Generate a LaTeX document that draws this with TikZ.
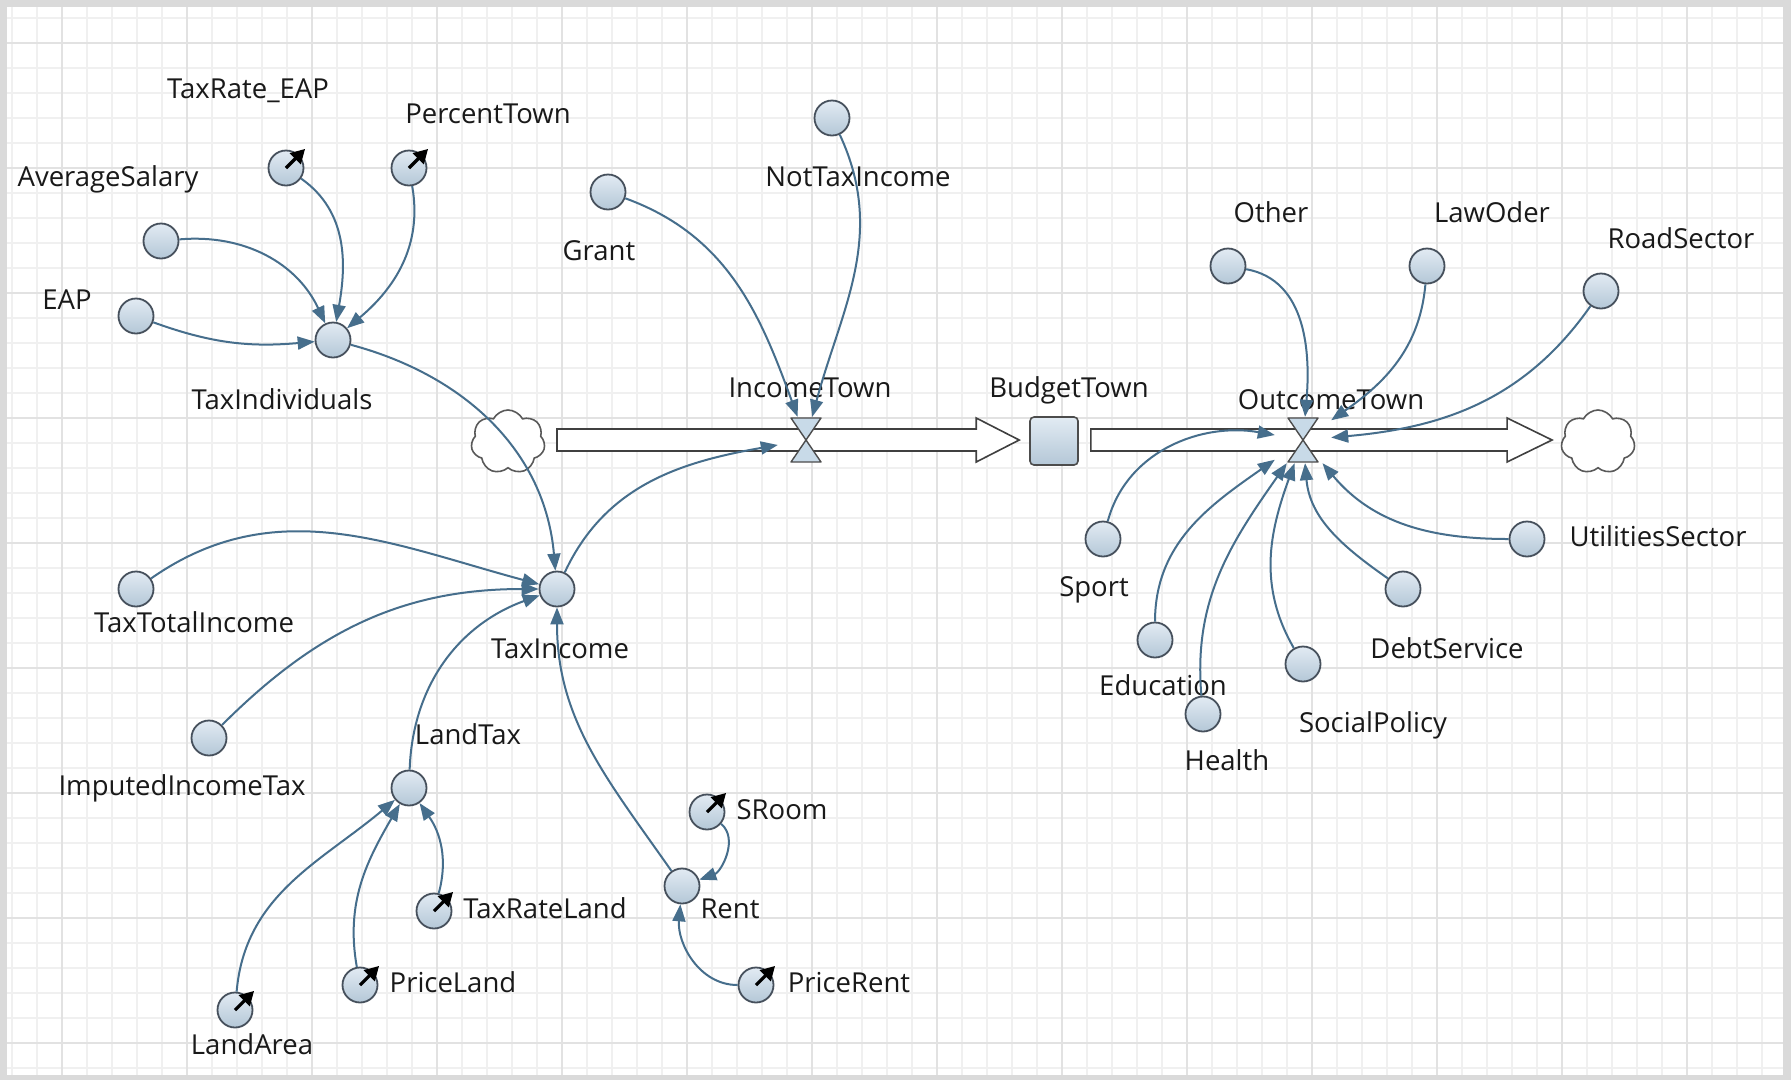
\documentclass[tikz,border=0pt]{standalone}
\usepackage{fontspec}
\setmainfont{Open Sans}
\usetikzlibrary{arrows.meta,shapes.symbols,calc}

\definecolor{linkblue}{RGB}{70,110,140}
\definecolor{auxfill}{RGB}{226,235,243}
\definecolor{auxdark}{RGB}{180,199,215}
\definecolor{auxline}{RGB}{70,80,92}
\definecolor{gridminor}{RGB}{240,240,240}
\definecolor{gridmajor}{RGB}{226,226,226}
\definecolor{framegray}{RGB}{218,218,218}
\definecolor{valvefill}{RGB}{200,218,232}

\begin{document}
\begin{tikzpicture}[x=1pt,y=1pt,
    aux/.style={circle, draw=auxline, line width=1.8pt, top color=auxfill, bottom color=auxdark, minimum size=35pt, inner sep=0pt},
    lbl/.style={font=\fontsize{27.5}{33}\selectfont, text=black!90, inner sep=0pt, text height=20pt, text depth=0pt},
    link/.style={draw=linkblue, line width=2pt, -{Triangle[length=17pt,width=13pt]}},
    dial/.style={line width=3.2pt, -{Triangle[length=14pt,width=15pt]}},
    pipe/.style={draw=black!75, line width=1.6pt, fill=white, line join=miter},
    valve/.style={minimum width=56pt, minimum height=46pt, inner sep=0pt},
    hourglass/.style={draw=black!70, line width=1.4pt, fill=valvefill, line join=round},
    stock/.style={rectangle, rounded corners=4pt, draw=black!70, line width=1.6pt, top color=auxfill, bottom color=auxdark, minimum size=48pt},
    source/.style={cloud, cloud puffs=7, cloud puff arc=125, aspect=1.15, draw=black!65, line width=1.6pt, fill=white, minimum width=74pt, minimum height=64pt}
  ]
  % frame and grid
  \fill[framegray] (0,0) rectangle (1791,-1080);
  \fill[white] (7,-7) rectangle (1783,-1075);
  \foreach \x in {12,37,...,1782} \draw[gridminor, line width=1.5pt] (\x,-7) -- (\x,-1075);
  \foreach \y in {18,43,...,1075} \draw[gridminor, line width=1.5pt] (7,-\y) -- (1783,-\y);
  \foreach \x in {62,187,...,1782} \draw[gridmajor, line width=2pt] (\x,-7) -- (\x,-1075);
  \foreach \y in {43,168,...,1075} \draw[gridmajor, line width=2pt] (7,-\y) -- (1783,-\y);

  % income side
  \node[aux] (taxrateEAP) at (286,-168) {};
  \node[aux] (percentTown) at (409,-168) {};
  \node[aux] (avgSalary) at (161,-241) {};
  \node[aux] (eap) at (136,-316) {};
  \node[aux] (taxInd) at (333,-340) {};
  \node[aux] (grant) at (608,-192) {};
  \node[aux] (notTax) at (832,-118) {};
  \node[aux] (taxIncome) at (557,-589) {};
  \node[aux] (taxTotal) at (136,-589) {};
  \node[aux] (imputed) at (209,-738) {};
  \node[aux] (landTax) at (409,-788) {};
  \node[aux] (taxrateLand) at (434,-911) {};
  \node[aux] (priceLand) at (360,-985) {};
  \node[aux] (landArea) at (235,-1010) {};
  \node[aux] (rent) at (682,-886) {};
  \node[aux] (sRoom) at (707,-812) {};
  \node[aux] (priceRent) at (756,-985) {};

  % stock and flows
  \node[source] (srcL) at (508,-442) {};
  \node[valve] (incomeTown) at (806,-440) {};
  \node[stock] (budget) at (1054,-441) {};
  \node[valve] (outcomeTown) at (1303,-440) {};
  \node[source] (sinkR) at (1598,-442) {};

  % outcome side
  \node[aux] (other) at (1228,-266) {};
  \node[aux] (lawOder) at (1427,-266) {};
  \node[aux] (road) at (1601,-291) {};
  \node[aux] (sport) at (1103,-539) {};
  \node[aux] (education) at (1155,-640) {};
  \node[aux] (health) at (1203,-714) {};
  \node[aux] (social) at (1303,-664) {};
  \node[aux] (debt) at (1403,-589) {};
  \node[aux] (utilities) at (1527,-539) {};

  % labels
  \node[lbl] (taxrateEAPlbl) at (248,-88) {TaxRate\_EAP};
  \node[lbl] (percentTownlbl) at (488,-113) {PercentTown};
  \node[lbl] (avgSalarylbl) at (108,-176) {AverageSalary};
  \node[lbl] (eaplbl) at (67,-299) {EAP};
  \node[lbl] (taxIndlbl) at (282,-399) {TaxIndividuals};
  \node[lbl] (grantlbl) at (599,-250) {Grant};
  \node[lbl] (notTaxlbl) at (858,-176) {NotTaxIncome};
  \node[lbl] (incomeTownlbl) at (810,-387) {IncomeTown};
  \node[lbl] (budgetlbl) at (1069,-387) {BudgetTown};
  \node[lbl] (outcomeTownlbl) at (1331,-399) {OutcomeTown};
  \node[lbl] (otherlbl) at (1271,-212) {Other};
  \node[lbl] (lawOderlbl) at (1492,-212) {LawOder};
  \node[lbl] (roadlbl) at (1681,-238) {RoadSector};
  \node[lbl] (sportlbl) at (1094,-586) {Sport};
  \node[lbl] (educationlbl) at (1163,-685) {Education};
  \node[lbl] (healthlbl) at (1227,-760) {Health};
  \node[lbl] (sociallbl) at (1373,-722) {SocialPolicy};
  \node[lbl] (debtlbl) at (1447,-648) {DebtService};
  \node[lbl] (utilitieslbl) at (1658,-536) {UtilitiesSector};
  \node[lbl] (taxTotallbl) at (194,-622) {TaxTotalIncome};
  \node[lbl] (imputedlbl) at (182,-785) {ImputedIncomeTax};
  \node[lbl] (taxIncomelbl) at (560,-648) {TaxIncome};
  \node[lbl] (landTaxlbl) at (468,-734) {LandTax};
  \node[lbl] (taxrateLandlbl) at (545,-908) {TaxRateLand};
  \node[lbl] (priceLandlbl) at (453,-982) {PriceLand};
  \node[lbl] (landArealbl) at (252,-1044) {LandArea};
  \node[lbl] (rentlbl) at (730,-908) {Rent};
  \node[lbl] (sRoomlbl) at (782,-809) {SRoom};
  \node[lbl] (priceRentlbl) at (849,-982) {PriceRent};

  % pipes
  \draw[pipe] ($(srcL.east)+(12,13)$) -- ($(budget.west)+(-53,12)$) -- ($(budget.west)+(-53,23)$)
    -- ($(budget.west)+(-10,1)$) -- ($(budget.west)+(-53,-21)$) -- ($(budget.west)+(-53,-10)$)
    -- ($(srcL.east)+(12,-9)$) -- cycle;
  \draw[pipe] ($(budget.east)+(12,12)$) -- ($(sinkR.west)+(-54,13)$) -- ($(sinkR.west)+(-54,24)$)
    -- ($(sinkR.west)+(-9,2)$) -- ($(sinkR.west)+(-54,-20)$) -- ($(sinkR.west)+(-54,-9)$)
    -- ($(budget.east)+(12,-10)$) -- cycle;
  \foreach \v in {incomeTown,outcomeTown} {
    \draw[hourglass] (\v.center) -- ++(-15,22) -- ++(30,0) -- cycle;
    \draw[hourglass] (\v.center) -- ++(-15,-22) -- ++(30,0) -- cycle;
  }

  % links
  \draw[link] (avgSalary) to[out=5, in=115] (taxInd);
  \draw[link] (taxrateEAP) to[out=-35, in=80] (taxInd);
  \draw[link] (percentTown) to[out=-80, in=40] (taxInd);
  \draw[link] (eap) to[out=-20, in=185] (taxInd);
  \draw[link] (taxInd) to[out=-15, in=95] (taxIncome);
  \draw[link] (taxIncome) to[out=65, in=190] (incomeTown);
  \draw[link] (grant) to[out=-20, in=110] (incomeTown);
  \draw[link] (notTax) to[out=-65, in=75] (incomeTown);
  \draw[link] (taxTotal) to[out=35, in=165] (taxIncome);
  \draw[link] (imputed) to[out=45, in=180] (taxIncome);
  \draw[link] (landTax) to[out=88, in=200] (taxIncome);
  \draw[link] (rent) to[out=125, in=-90] (taxIncome);
  \draw[link] (taxrateLand) to[out=75, in=-55] (landTax);
  \draw[link] (priceLand) to[out=100, in=-120] (landTax);
  \draw[link] (landArea) to[out=85, in=-140] (landTax);
  \draw[link] (sRoom) to[out=-40, in=20] (rent);
  \draw[link] (priceRent) to[out=180, in=-95] (rent);
  \draw[link] (other) to[out=-10, in=85] (outcomeTown);
  \draw[link] (lawOder) to[out=-95, in=35] (outcomeTown);
  \draw[link] (road) to[out=-125, in=5] (outcomeTown);
  \draw[link] (sport) to[out=75, in=170] (outcomeTown);
  \draw[link] (education) to[out=90, in=215] (outcomeTown);
  \draw[link] (health) to[out=95, in=235] (outcomeTown);
  \draw[link] (social) to[out=120, in=250] (outcomeTown);
  \draw[link] (debt) to[out=145, in=275] (outcomeTown);
  \draw[link] (utilities) to[out=180, in=310] (outcomeTown);

  % constants
  \foreach \c in {taxrateEAP,percentTown,taxrateLand,priceLand,landArea,sRoom,priceRent}
    \draw[dial] (\c.center) -- ++(45:27);
\end{tikzpicture}
\end{document}
